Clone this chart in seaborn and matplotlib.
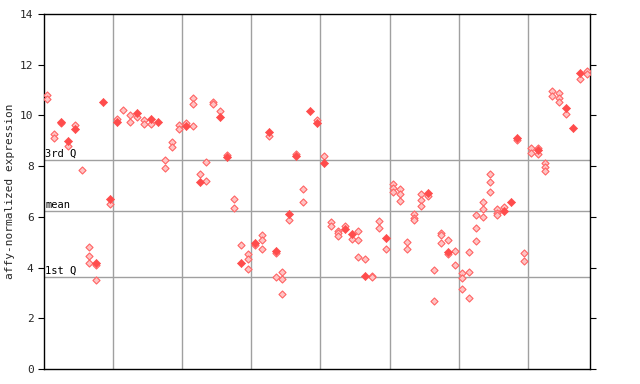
import numpy as np
import pandas as pd
import matplotlib
matplotlib.use("Agg")
import matplotlib.pyplot as plt
import seaborn as sns

# sample positions (0..78) and values
filled_idx = [2, 3, 4, 7, 8, 9, 10, 13, 15, 16, 20, 22, 25, 26, 28, 30, 32, 33,
              35, 36, 38, 39, 40, 43, 44, 46, 49, 55, 58, 66, 67, 68, 71, 75, 76, 77]
filled_val = [9.75, 9.0, 9.46, 4.18, 10.54, 6.69, 9.75, 10.08, 9.84, 9.75, 9.58, 7.39,
              9.95, 8.36, 4.19, 4.95, 9.36, 4.67, 6.12, 8.39, 10.17, 9.71, 8.14, 5.53,
              5.34, 3.67, 5.18, 6.96, 4.63, 6.22, 6.6, 9.12, 8.64, 10.29, 9.49, 11.68]

hatch_idx = [0, 0, 1, 1, 2, 3, 4, 5, 6, 6, 6, 7, 7, 9, 10, 11, 12, 12, 13, 14, 14,
             15, 17, 17, 18, 18, 19, 19, 20, 21, 21, 21, 22, 23, 23, 24, 24, 25, 26,
             27, 27, 28, 29, 29, 29, 30, 31, 31, 31, 32, 33, 33, 34, 34, 34, 35, 36,
             37, 37, 39, 40, 41, 41, 42, 42, 42, 43, 44, 45, 45, 45, 46, 47, 47, 48,
             48, 49, 50, 50, 50, 51, 51, 51, 52, 52, 53, 53, 53, 54, 54, 54, 55, 56,
             56, 57, 57, 57, 58, 58, 59, 59, 60, 60, 60, 61, 61, 61, 62, 62, 62, 63,
             63, 63, 64, 64, 64, 65, 65, 65, 66, 68, 69, 69, 70, 70, 71, 71, 72, 72,
             72, 73, 73, 74, 74, 74, 75, 77, 78, 78]
hatch_val = [10.8, 10.65, 9.27, 9.1, 9.7, 8.79, 9.62, 7.85, 4.81, 4.45, 4.18, 4.1, 3.51,
             6.49, 9.84, 10.21, 10.0, 9.73, 9.92, 9.82, 9.66, 9.66, 8.23, 7.91, 8.96,
             8.77, 9.62, 9.45, 9.69, 10.67, 10.47, 9.57, 7.68, 8.15, 7.4, 10.54, 10.44,
             10.17, 8.42, 6.69, 6.34, 4.88, 4.52, 4.33, 3.93, 4.88, 5.27, 5.07, 4.72,
             9.17, 4.57, 3.61, 3.81, 3.53, 2.94, 5.86, 8.48, 7.09, 6.57, 9.82, 8.4,
             5.8, 5.63, 5.44, 5.35, 5.26, 5.64, 5.11, 5.44, 5.07, 4.4, 4.33, 3.67, 3.62,
             5.84, 5.55, 4.72, 7.28, 7.15, 6.99, 7.09, 6.89, 6.61, 5.0, 4.72, 6.1, 5.95,
             5.88, 6.89, 6.65, 6.41, 6.84, 3.9, 2.68, 5.38, 5.3, 4.95, 5.07, 4.55, 4.65,
             4.09, 3.77, 3.59, 3.14, 4.6, 3.81, 2.79, 6.07, 5.55, 5.04, 6.57, 6.32, 5.98,
             7.68, 7.36, 7.0, 6.3, 6.16, 6.06, 6.38, 9.03, 4.56, 4.25, 8.73, 8.5, 8.73,
             8.46, 8.14, 7.98, 7.82, 10.97, 10.78, 10.87, 10.7, 10.54, 10.04, 11.45,
             11.76, 11.63]

n_samples = 79
group_edges = [9.5, 19.5, 29.5, 39.5, 49.5, 59.5, 69.5]
q_labels = ["3rd Q", "mean", "1st Q"]
q_values = [8.23, 6.23, 3.63]

df = pd.concat([
    pd.DataFrame({"sample": hatch_idx, "value": hatch_val, "kind": "rep"}),
    pd.DataFrame({"sample": filled_idx, "value": filled_val, "kind": "main"}),
])

sns.set_style("white")
plt.rcParams["font.family"] = ["DejaVu Sans Mono"]

fig = plt.figure(figsize=(6.4, 3.84), dpi=100)
ax = fig.add_axes([44 / 640, 15 / 384, 546 / 640, 355 / 384])

for x in group_edges:
    ax.axvline(x, color="#a0a0a0", lw=1, zorder=0)
for lab, v in zip(q_labels, q_values):
    ax.axhline(v, color="#a0a0a0", lw=1, zorder=0)
    ax.text(-0.35, v + 0.06, lab, fontsize=7.5, va="bottom", ha="left", color="black")

sns.scatterplot(data=df[df["kind"] == "rep"], x="sample", y="value", marker="D",
                s=13, color="#ffc4c4", edgecolor="#ff6464", linewidth=0.8,
                ax=ax, legend=False, zorder=3)
sns.scatterplot(data=df[df["kind"] == "main"], x="sample", y="value", marker="D",
                s=17, color="#ff4c4c", edgecolor="#ff4c4c", linewidth=0.5,
                ax=ax, legend=False, zorder=4)

ax.set_xlim(-0.5, n_samples - 0.5)
ax.set_ylim(0, 14)
ax.set_yticks(range(0, 15, 2))
ax.set_xticks([])
ax.set_xlabel("")
ax.set_ylabel("affy-normalized expression", fontsize=8)
ax.tick_params(axis="y", direction="out", length=4, labelsize=8, right=True,
               left=True, width=0.8, color="black")
for s in ax.spines.values():
    s.set_color("black")
    s.set_linewidth(1)

fig.savefig("out.png", dpi=100)
